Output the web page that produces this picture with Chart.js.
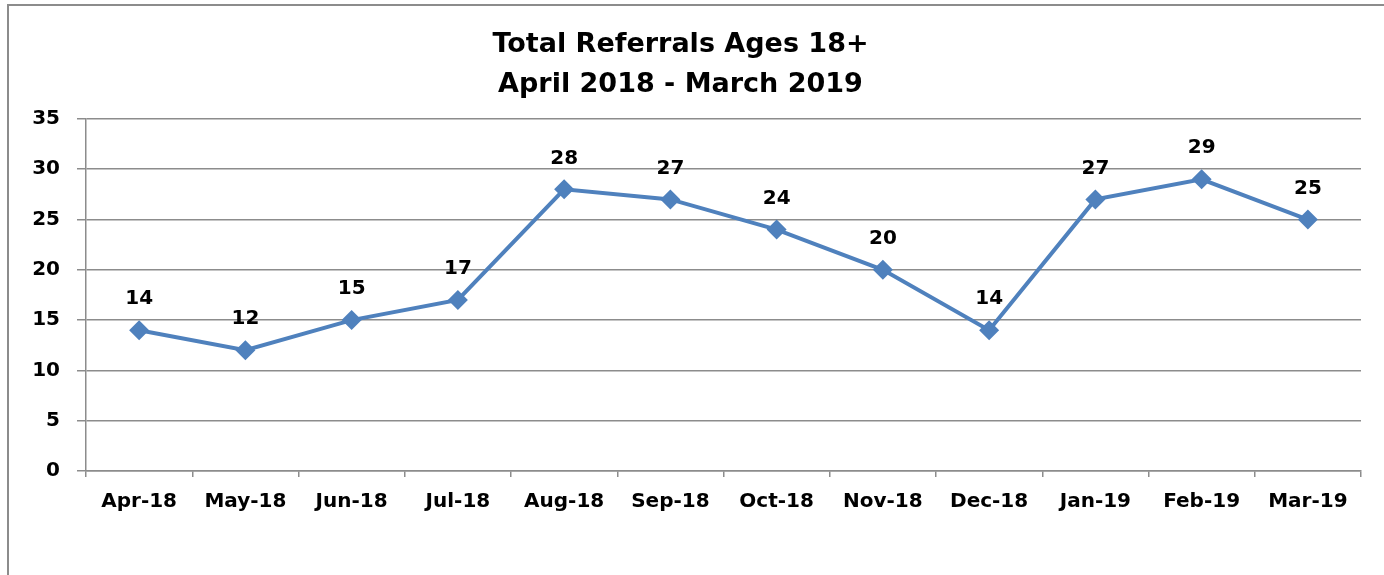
<!DOCTYPE html>
<html>
<head>
<meta charset="utf-8">
<script src="https://cdn.jsdelivr.net/npm/chart.js@4.4.0/dist/chart.umd.min.js"></script>
<style>
  html, body { margin: 0; padding: 0; background: #fff; }
  #wrap { position: relative; width: 1384px; height: 575px; overflow: hidden; }
  #frame {
    position: absolute; left: 7px; top: 4px; width: 1400px; height: 600px;
    border-left: 2px solid #8c8c8c; border-top: 2px solid #8c8c8c;
  }
  #chart { position: absolute; left: 0; top: 0; }
</style>
</head>
<body>
<div id="wrap">
  <div id="frame"></div>
  <canvas id="chart" width="1384" height="575"></canvas>
</div>
<script>
const months = ['Apr-18', 'May-18', 'Jun-18', 'Jul-18', 'Aug-18', 'Sep-18',
                'Oct-18', 'Nov-18', 'Dec-18', 'Jan-19', 'Feb-19', 'Mar-19'];
const referrals = [14, 12, 15, 17, 28, 27, 24, 20, 14, 27, 29, 25];
const titleLines = ['Total Referrals Ages 18+', 'April 2018 - March 2019'];

const fontFamily = '"DejaVu Sans", Verdana, sans-serif';
const blue = '#4f81bd';
const gridColor = '#8c8c8c';

// draws the value above each point
const valueLabels = {
  id: 'valueLabels',
  afterDatasetsDraw(chart) {
    const ctx = chart.ctx;
    const meta = chart.getDatasetMeta(0);
    ctx.save();
    ctx.font = `bold 20px ${fontFamily}`;
    ctx.fillStyle = '#000';
    ctx.textAlign = 'center';
    ctx.textBaseline = 'middle';
    meta.data.forEach((pt, i) => {
      ctx.fillText(String(referrals[i]), pt.x, pt.y - 31);
    });
    ctx.restore();
  }
};

new Chart(document.getElementById('chart'), {
  type: 'line',
  data: {
    labels: months,
    datasets: [{
      data: referrals,
      borderColor: blue,
      backgroundColor: blue,
      borderWidth: 4,
      pointStyle: 'rectRot',
      pointRadius: 10,
      pointHoverRadius: 10,
      pointBackgroundColor: blue,
      pointBorderColor: blue,
      pointBorderWidth: 0,
      tension: 0
    }]
  },
  options: {
    responsive: false,
    animation: false,
    layout: { padding: { left: 0, right: 23, top: 0, bottom: 0 } },
    scales: {
      x: {
        offset: true,
        grid: {
          offset: true,
          drawOnChartArea: false,
          drawTicks: true,
          tickLength: 6,
          color: gridColor,
          lineWidth: 1.5
        },
        border: { color: gridColor, width: 1.5 },
        ticks: {
          color: '#000',
          padding: 13,
          maxRotation: 0,
          autoSkip: false,
          font: { family: fontFamily, size: 20, weight: 'bold' }
        },
        afterFit(scale) { scale.height = 104; }
      },
      y: {
        min: 0,
        max: 35,
        grid: {
          color: gridColor,
          lineWidth: 1.5,
          tickLength: 9
        },
        border: { color: gridColor, width: 1.5 },
        ticks: {
          stepSize: 5,
          color: '#000',
          padding: 17,
          font: { family: fontFamily, size: 20, weight: 'bold' }
        },
        afterFit(scale) { scale.width = 86; }
      }
    },
    plugins: {
      legend: { display: false },
      tooltip: { enabled: false },
      title: {
        display: true,
        text: titleLines,
        color: '#000',
        font: { family: fontFamily, size: 27, weight: 'bold', lineHeight: 1.48 },
        padding: { top: 25, bottom: 14 }
      }
    }
  },
  plugins: [valueLabels]
});
</script>
</body>
</html>
